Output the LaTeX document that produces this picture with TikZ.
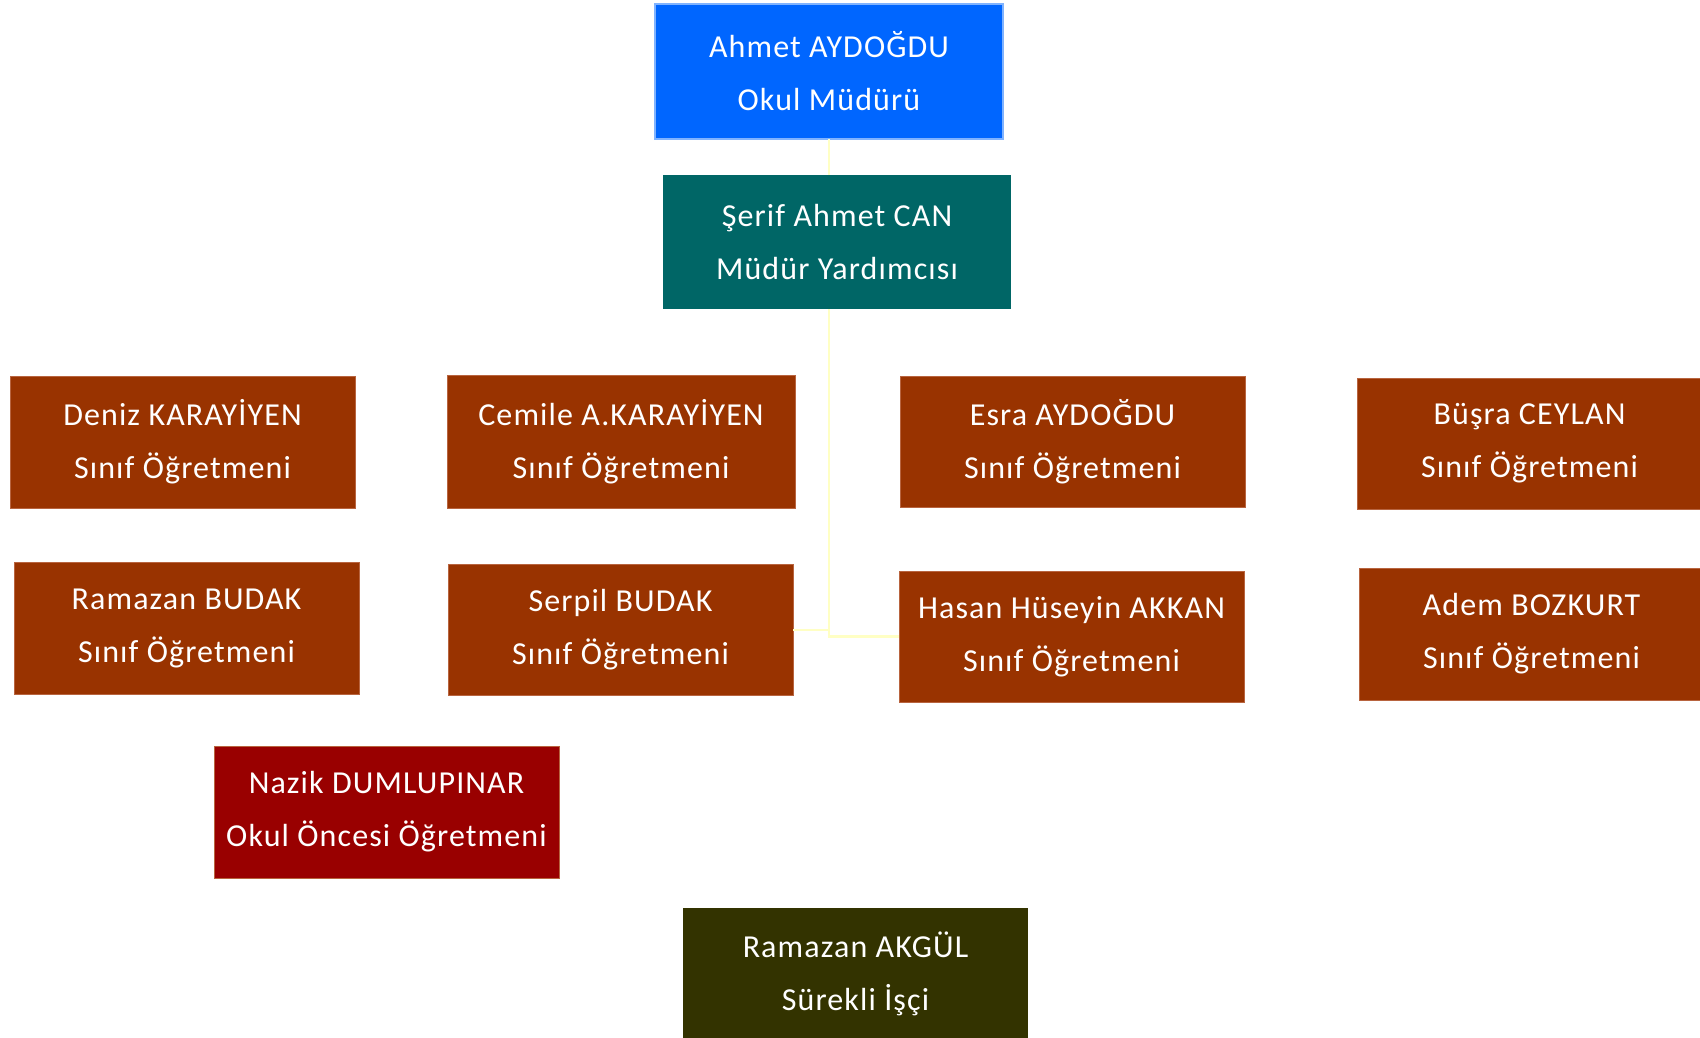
\documentclass[tikz,border=0pt]{standalone}
\usepackage{fontspec}
\setmainfont{Carlito}[LetterSpace=3.5]
\definecolor{cblue}{HTML}{0066FF}
\definecolor{cblueedge}{HTML}{80B3FF}
\definecolor{cteal}{HTML}{006666}
\definecolor{cbrown}{HTML}{993300}
\definecolor{cbrownedge}{HTML}{B8643F}
\definecolor{cred}{HTML}{990000}
\definecolor{colive}{HTML}{333300}
\definecolor{cline}{HTML}{FFFFC4}
\tikzset{
  box/.style={rectangle, inner sep=0pt, outer sep=0pt, minimum width=345pt, minimum height=132pt,
    text=white, align=center, font=\fontsize{32}{53}\selectfont},
  brownbox/.style={box, fill=cbrown, draw=cbrownedge, line width=0.8pt},
  conn/.style={draw=cline, line width=2.5pt}
}
\begin{document}
\begin{tikzpicture}[x=1pt,y=-1pt]
\useasboundingbox[fill=white] (0,0) rectangle (1700,1038);
\node[box, fill=cblue, draw=cblueedge, line width=2pt, minimum width=348pt, minimum height=135pt] (ahmet) at (829,71.5) {Ahmet AYDOĞDU\\Okul Müdürü};
\node[box, fill=cteal, minimum width=348pt, minimum height=134pt] (sherif) at (837,242) {Şerif Ahmet CAN\\Müdür Yardımcısı};
\coordinate (jtop) at (ahmet.south |- sherif.south);
\draw[conn] (ahmet.south) -- (ahmet.south |- sherif.north);
\node[brownbox] (deniz) at (182.5,442) {Deniz KARAYİYEN\\Sınıf Öğretmeni};
\node[brownbox] (rbudak) at (186.5,628) {Ramazan BUDAK\\Sınıf Öğretmeni};
\node[brownbox, minimum width=348pt, minimum height=133pt] (cemile) at (621,441.5) {Cemile A.KARAYİYEN\\Sınıf Öğretmeni};
\node[brownbox, minimum height=131pt] (serpil) at (620.5,630) {Serpil BUDAK\\Sınıf Öğretmeni};
\node[brownbox, minimum height=131pt] (esra) at (1072.5,441.5) {Esra AYDOĞDU\\Sınıf Öğretmeni};
\node[brownbox, minimum height=131pt] (hasan) at (1071.5,636.5) {Hasan Hüseyin AKKAN\\Sınıf Öğretmeni};
\node[brownbox, minimum height=131pt] (busra) at (1529.5,443.5) {Büşra CEYLAN\\Sınıf Öğretmeni};
\node[brownbox] (adem) at (1531.5,634) {Adem BOZKURT\\Sınıf Öğretmeni};
\node[box, fill=cred, draw=cbrownedge, line width=0.8pt] (nazik) at (386.5,812) {Nazik DUMLUPINAR\\Okul Öncesi Öğretmeni};
\node[box, fill=colive] (akgul) at (855.5,974) {Ramazan AKGÜL\\Sürekli İşçi};
\draw[conn] (jtop) |- (hasan.west);
\draw[conn] (serpil.east) -| (jtop);
\end{tikzpicture}
\end{document}
